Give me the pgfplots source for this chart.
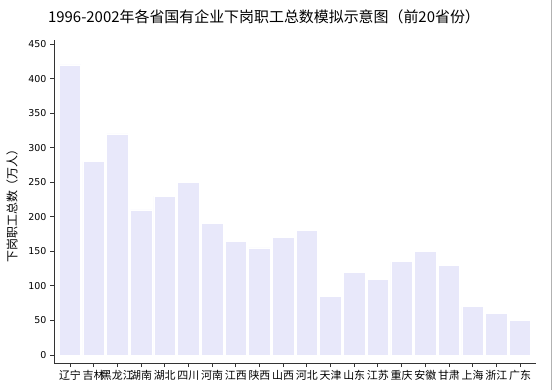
\documentclass[border=0pt]{standalone}
\usepackage{fontspec}
\setmainfont{Noto Sans CJK SC}
\newfontfamily\numfont{DejaVu Sans}
\usepackage{pgfplots}
\pgfplotsset{compat=1.18}
\definecolor{barc}{HTML}{E8E8FA}
\definecolor{spine}{HTML}{333333}
\begin{document}
\begin{tikzpicture}
\useasboundingbox (0,0) rectangle (554bp,390bp);
\draw[gray!60, line width=0.8bp] (551bp,0) -- (551bp,390bp);
\node[font=\fontsize{15}{17}\selectfont] at (264bp,373bp) {1996-2002年各省国有企业下岗职工总数模拟示意图（前20省份）};
\node[rotate=90, font=\fontsize{12}{14}\selectfont] at (12bp,187bp) {下岗职工总数（万人）};
\begin{axis}[
  at={(54bp,27bp)}, anchor=south west,
  scale only axis, width=482bp, height=323bp,
  xmin=-0.675, xmax=19.675, ymin=-11.6, ymax=456,
  axis x line*=bottom, axis y line*=left,
  axis line style={spine, line width=0.9bp},
  ytick={0,50,...,450},
  xtick={0,...,19},
  xticklabels={辽宁,吉林,黑龙江,湖南,湖北,四川,河南,江西,陕西,山西,河北,天津,山东,江苏,重庆,安徽,甘肃,上海,浙江,广东},
  tick style={spine, line width=0.9bp},
  tick align=outside, major tick length=4bp,
  xticklabel style={font=\fontsize{11}{12}\selectfont},
  yticklabel style={font=\numfont\fontsize{9.5}{11}\selectfont},
  /pgf/number format/assume math mode=true,
]
\addplot[ybar, bar width=0.91, fill=barc, draw=white, line width=0.6bp] coordinates {
(0,420) (1,280) (2,320) (3,210) (4,230) (5,250) (6,190) (7,165) (8,155) (9,170)
(10,180) (11,85) (12,120) (13,110) (14,135) (15,150) (16,130) (17,70) (18,60) (19,50)
};
\end{axis}
\end{tikzpicture}
\end{document}
